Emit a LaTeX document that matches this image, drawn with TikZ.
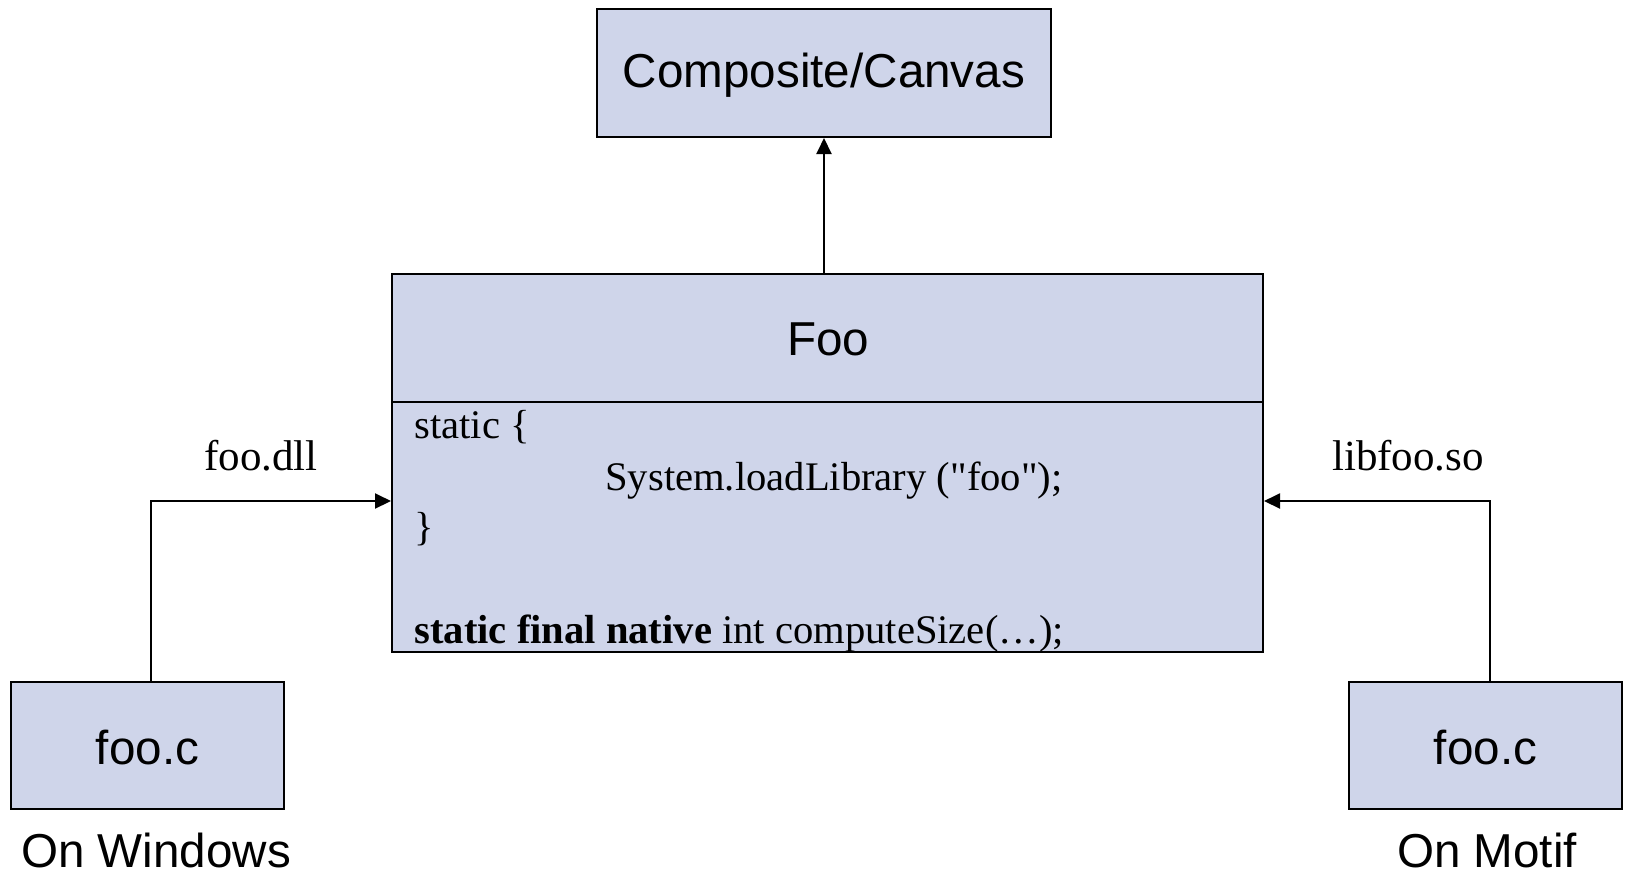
\documentclass[tikz,border=0pt]{standalone}
\usepackage{fontspec}
\setmainfont{Liberation Serif}[Ligatures=TeXOff]
\setsansfont{Liberation Sans}
\usetikzlibrary{arrows.meta}
\definecolor{boxfill}{RGB}{207,213,234}
\tikzset{
  umlbox/.style={draw=black, line width=1pt, fill=boxfill, inner sep=0pt},
  sanstext/.style={font=\sffamily\fontsize{23.8}{28}\selectfont},
  serftext/.style={font=\rmfamily\fontsize{20.3}{24}\selectfont, inner sep=0pt},
  conn/.style={draw=black, line width=1pt, -{Triangle[length=8pt,width=7.5pt]}}
}
\begin{document}
\begin{tikzpicture}[x=0.5pt, y=-0.5pt]
\useasboundingbox (0,0) rectangle (1627,875);
% boxes
\node[umlbox, minimum width=454*0.5pt, minimum height=128*0.5pt] (comp) at (824,73) {};
\node[sanstext] (comptext) at (824,75) {Composite/Canvas};
\node[umlbox, minimum width=871*0.5pt, minimum height=128*0.5pt] (foohead) at (827.5,338) {};
\node[sanstext] (footext) at (828,339) {Foo};
\node[umlbox, minimum width=871*0.5pt, minimum height=250*0.5pt] (foobody) at (827.5,527) {};
\node[umlbox, minimum width=273*0.5pt, minimum height=127*0.5pt] (wfoo) at (147.5,745.5) {};
\node[sanstext] (wfootext) at (147.5,747) {foo.c};
\node[umlbox, minimum width=273*0.5pt, minimum height=127*0.5pt] (mfoo) at (1485.5,745.5) {};
\node[sanstext] (mfootext) at (1485.5,747) {foo.c};
% body text
\node[serftext, anchor=base west] (l1) at (414,438) {static \{};
\node[serftext, anchor=base west] (l2) at (605,490) {System.loadLibrary ("foo");};
\node[serftext, anchor=base west] (l3) at (414,540) {\}};
\node[serftext, anchor=base west] (l4) at (414,643) {\textbf{static final native} int computeSize(\ldots);};
% labels
\node[serftext, font=\rmfamily\fontsize{21.5}{25}\selectfont, anchor=base] (dll) at (261,470) {foo.dll};
\node[serftext, font=\rmfamily\fontsize{21.5}{25}\selectfont, anchor=base] (so) at (1408,470) {libfoo.so};
\node[sanstext, anchor=base] (win) at (156,867) {On Windows};
\node[sanstext, anchor=base] (motif) at (1487,867) {On Motif};
% connectors
\coordinate (ly) at (0,501);
\coordinate (lx) at (151,0);
\coordinate (rx) at (1490,0);
\draw[conn] (comp.south |- foohead.north) -- (comp.south);
\draw[conn] (lx |- wfoo.north) |- (foobody.west |- ly);
\draw[conn] (rx |- mfoo.north) |- (foobody.east |- ly);
\end{tikzpicture}
\end{document}
